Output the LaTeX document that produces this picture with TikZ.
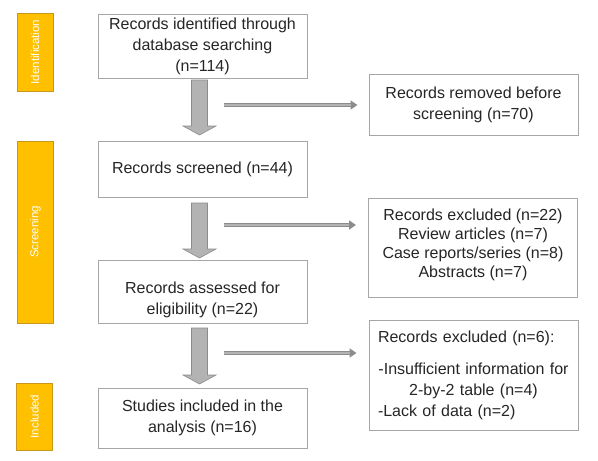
\documentclass[tikz,border=0pt]{standalone}
\usepackage{fontspec}
\setmainfont{Liberation Sans}
\usetikzlibrary{arrows.meta,calc}
\definecolor{barfill}{HTML}{FFC000}
\definecolor{baredge}{HTML}{C8961C}
\definecolor{boxedge}{HTML}{A6A6A6}
\definecolor{txt}{HTML}{262626}
\definecolor{afill}{HTML}{B3B3B3}
\definecolor{aedge}{HTML}{8C8C8C}
\newcommand\leftfill{\hskip 0pt plus 1filll\null}
\newcommand\bigflowarrow[2]{%
  \path[bigarrow] let \p1=(#1), \p2=(#2) in
    (\x1-8pt,\y1) -- (\x1+8pt,\y1) -- (\x1+8pt,\y2+9pt) -- (\x1+16.5pt,\y2+9pt)
    -- (\x1,\y2) -- (\x1-16.5pt,\y2+9pt) -- (\x1-8pt,\y2+9pt) -- cycle;}
\begin{document}
\begin{tikzpicture}[x=1pt,y=-1pt,
  flowbox/.style={draw=boxedge, line width=1pt, fill=white, text=txt, align=center,
    minimum width=209pt, inner sep=0pt, font=\fontsize{16}{21}\selectfont},
  phasebar/.style={draw=baredge, line width=1pt, fill=barfill, text=white, rotate=90,
    minimum height=36pt, inner sep=0pt, font=\fontsize{11.5}{13}\selectfont},
  bigarrow/.style={fill=afill, draw=aedge, line width=0.6pt},
  thinarrow/.style={draw=aedge, line width=4pt, -{Triangle[length=7pt,width=9pt]},
    postaction={draw=afill, line width=2pt, shorten >=7pt, -}}]
\useasboundingbox (0,0) rectangle (598,461);
\fill[white] (0,0) rectangle (598,461);
% phase bars
\node[phasebar, minimum width=78pt] (idb) at (35,52) {Identification};
\node[phasebar, minimum width=182pt] (scb) at (35.5,232) {Screening};
\node[phasebar, minimum width=67pt] (inb) at (34.5,416.5) {Included};
% main boxes
\node[flowbox, minimum height=64pt] (b1) at (202.5,46) {Records identified through\\database searching\\(n=114)};
\node[flowbox, minimum height=56pt] (b2) at (202.5,169) {Records screened (n=44)};
\node[flowbox, minimum height=63pt] (b3) at (202.5,291.5) {\rule{0pt}{28pt}Records assessed for\\eligibility (n=22)};
\node[flowbox, minimum height=60pt] (b4) at (202.5,418) {Studies included in the\\analysis (n=16)};
% side boxes
\node[flowbox, minimum height=61pt] (rem) at (473.5,104.5) {Records removed before\\screening (n=70)};
\node[flowbox, minimum height=99pt, font=\fontsize{16}{19}\selectfont] (ex1) at (473,247.5)
  {Records excluded (n=22)\\Review articles (n=7)\\Case reports/series (n=8)\\Abstracts (n=7)\rule[-8pt]{0pt}{8pt}};
\node[flowbox, minimum height=110pt, text width=191pt] (ex2) at (473.5,375)
  {Records excluded (n=6):\leftfill\\[11pt]-Insufficient information for\\2-by-2 table (n=4)\\-Lack of data (n=2)\leftfill};
% big arrows
\coordinate (a1s) at (199.5,80);  \coordinate (a1e) at (199.5,135);
\coordinate (a2s) at (199.5,203); \coordinate (a2e) at (199.5,258);
\coordinate (a3s) at (199.5,328); \coordinate (a3e) at (199.5,384);
\bigflowarrow{a1s}{a1e}
\bigflowarrow{a2s}{a2e}
\bigflowarrow{a3s}{a3e}
% thin arrows
\coordinate (t1) at (224,105);
\coordinate (t2) at (224,225);
\coordinate (t3) at (224,353);
\draw[thinarrow] (t1) -- ([xshift=-11pt]rem.west |- t1);
\draw[thinarrow] (t2) -- ([xshift=-12pt]ex1.west |- t2);
\draw[thinarrow] (t3) -- ([xshift=-12pt]ex2.west |- t3);
\end{tikzpicture}
\end{document}
